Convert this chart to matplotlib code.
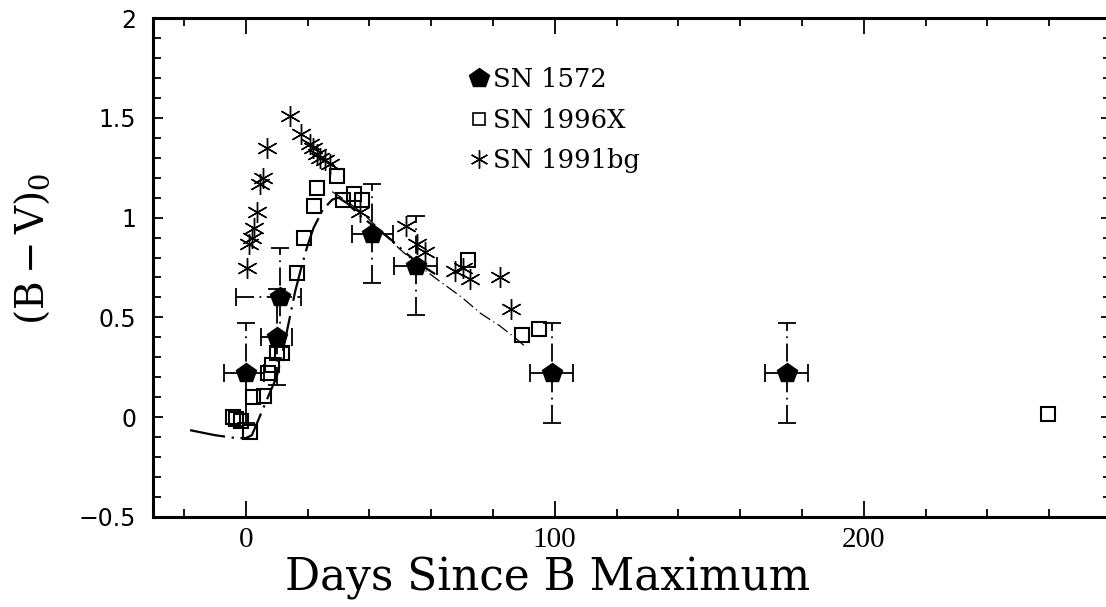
import numpy as np
import matplotlib
matplotlib.use("Agg")
import matplotlib.pyplot as plt
from matplotlib.ticker import MultipleLocator

# SN 1572 (pentagons with error bars)
sn1572_days = [0, 10, 11, 41, 55, 99, 175]
sn1572_bv = [0.22, 0.40, 0.60, 0.92, 0.76, 0.22, 0.22]
sn1572_xerr_lo = [7, 5, 14, 6.5, 7, 7, 7]
sn1572_xerr_hi = [6, 5, 7, 6.5, 7, 7, 7]
sn1572_yerr = [0.25, 0.24, 0.25, 0.25, 0.25, 0.25, 0.25]

# SN 1996X (open squares)
sn1996x_days = [-4.2, -3.0, -1.5, 1.3, 2.3, 6.0, 7.2, 8.4, 10.0, 11.6,
                16.5, 19.0, 22.0, 23.0, 29.4, 31.4, 35.0, 37.5, 72.0,
                89.3, 95.0, 259.5]
sn1996x_bv = [0.00, -0.01, -0.02, -0.075, 0.10, 0.105, 0.22, 0.26, 0.32, 0.32,
              0.72, 0.90, 1.06, 1.15, 1.21, 1.09, 1.12, 1.09, 0.79,
              0.41, 0.44, 0.015]

# SN 1991bg (asterisks)
sn1991bg_days = [0.3, 1.0, 2.0, 2.6, 3.5, 4.5, 5.5, 6.8, 14.2, 17.8,
                 20.7, 21.7, 23.0, 24.0, 25.6, 27.2, 37.0, 52.0, 55.3, 58.0,
                 67.6, 70.3, 72.5, 82.2, 86.0]
sn1991bg_bv = [0.75, 0.87, 0.90, 0.95, 1.03, 1.17, 1.20, 1.35, 1.51, 1.42,
               1.37, 1.35, 1.32, 1.30, 1.29, 1.27, 1.03, 0.96, 0.87, 0.83,
               0.73, 0.75, 0.69, 0.70, 0.54]

# template curves
curve_a_days = [-18, -10, -3, 0, 2, 5, 8, 10, 12, 14, 16, 18, 20, 22, 25,
                28, 30, 33, 37, 42, 47, 52, 56, 60, 63]
curve_a_bv = [-0.065, -0.09, -0.105, -0.105, -0.09, 0.02, 0.13, 0.20, 0.33,
              0.48, 0.63, 0.75, 0.86, 0.95, 1.04, 1.09, 1.10, 1.07, 1.01,
              0.95, 0.89, 0.82, 0.77, 0.73, 0.70]
curve_b_days = [28, 32, 38, 44, 50, 56, 62, 70, 76, 82, 87, 90]
curve_b_bv = [1.13, 1.09, 1.02, 0.93, 0.84, 0.76, 0.69, 0.60, 0.52, 0.46,
              0.40, 0.36]

plt.rcParams['font.family'] = ['DejaVu Serif']
plt.rcParams['mathtext.fontset'] = 'dejavuserif'

fig = plt.figure(figsize=(11.06, 6.07), dpi=100)
ax = fig.add_axes([153 / 1106, 90 / 607, 958 / 1106, 499 / 607])

ax.plot(curve_a_days, curve_a_bv, color='black', lw=1.6,
        linestyle=(0, (16, 3, 1, 3)))
ax.plot(curve_b_days, curve_b_bv, color='black', lw=0.9,
        linestyle=(0, (10, 3, 1, 3)))

ax.plot(sn1996x_days, sn1996x_bv, linestyle='none', marker='s', ms=10,
        mfc='none', mec='black', mew=1.5)
ax.plot(sn1991bg_days, sn1991bg_bv, linestyle='none', marker=(6, 2, 0),
        ms=15, color='black', mew=1.0)

eb = ax.errorbar(sn1572_days, sn1572_bv,
                 xerr=[sn1572_xerr_lo, sn1572_xerr_hi], yerr=sn1572_yerr,
                 fmt='p', ms=15, mfc='black', mec='black', ecolor='black',
                 elinewidth=1.3, capsize=6.5, capthick=1.3)
for col in eb[2]:
    col.set_linestyle((0, (10, 3, 1, 3)))

# legend entries
h1, = ax.plot([], [], 'p', ms=15, color='black')
h2, = ax.plot([], [], 's', ms=8, mfc='none', mec='black', mew=1.2)
h3, = ax.plot([], [], marker=(6, 2, 0), ms=13, linestyle='none',
              color='black', mew=1.0)
ax.legend([h1, h2, h3], ['SN 1572', 'SN 1996X', 'SN 1991bg'],
          loc='upper left', bbox_to_anchor=(0.304, 0.949), frameon=False,
          handlelength=0.9, handletextpad=0.1, labelspacing=0.62,
          prop={'family': 'DejaVu Serif', 'size': 18.5})

ax.set_xlim(-30, 280)
ax.set_ylim(-0.5, 2)
ax.xaxis.set_major_locator(MultipleLocator(100))
ax.xaxis.set_minor_locator(MultipleLocator(20))
ax.yaxis.set_major_locator(MultipleLocator(0.5))
ax.yaxis.set_minor_locator(MultipleLocator(0.1))
ax.yaxis.set_major_formatter(plt.FuncFormatter(
    lambda v, p: ('%g' % v).replace('-', '\u2212')))

for s in ax.spines.values():
    s.set_linewidth(2.2)
ax.tick_params(which='both', direction='in', top=True, right=True,
               width=1.3, color='black')
ax.tick_params(axis='x', which='major', length=11.5, pad=7)
ax.tick_params(axis='x', which='minor', length=5.8)
ax.tick_params(axis='y', which='major', length=7.5, pad=12)
ax.tick_params(axis='y', which='minor', length=5.8)
for lab in ax.get_xticklabels():
    lab.set_family(['Liberation Sans Narrow', 'Liberation Serif'])
    lab.set_fontsize(21)
for lab in ax.get_yticklabels():
    lab.set_family('DejaVu Sans')
    lab.set_fontsize(17)

ax.set_xlabel('Days Since B Maximum', family='DejaVu Serif',
              fontsize=31.5, labelpad=4)
ax.xaxis.set_label_coords((548 - 153) / 958, -0.08, transform=ax.transAxes)
ax.xaxis.label.set_verticalalignment('top')
ax.set_ylabel(r'$\mathregular{(B-V)_0}$', fontsize=28)
ax.yaxis.set_label_coords(-0.105, (517 - 249) / 499)

fig.savefig('out.png', dpi=100)
